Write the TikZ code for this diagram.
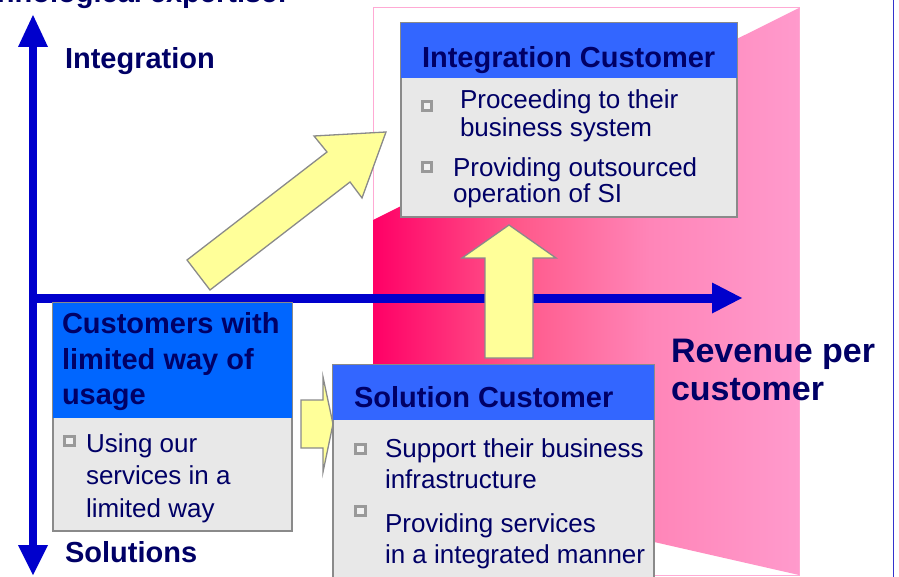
\documentclass[tikz,border=0pt]{standalone}
\usepackage{fontspec}
\setmainfont{Liberation Sans}
\usetikzlibrary{calc}
\definecolor{navy}{HTML}{000066}
\definecolor{axisblue}{HTML}{0000CC}
\definecolor{framelineblue}{HTML}{3333CC}
\definecolor{barblue}{HTML}{3366FF}
\definecolor{barbluebright}{HTML}{0066FF}
\definecolor{bodygray}{HTML}{E8E8E8}
\definecolor{edgegray}{HTML}{8A8A8A}
\definecolor{bulletgray}{HTML}{999999}
\definecolor{arrowyellow}{HTML}{FFFF99}
\definecolor{pinkA}{HTML}{FF0066}
\definecolor{pinkB}{HTML}{FF5A8C}
\definecolor{pinkC}{HTML}{FF85B8}
\definecolor{pinkD}{HTML}{FF9ACC}
\definecolor{pinkline}{HTML}{FFAAD4}
% horizontal fade from hot pink to light pink (path box = 25bp..75bp)
\pgfdeclarehorizontalshading{pinkfade}{100bp}{color(0bp)=(pinkA); color(25bp)=(pinkA); color(42.5bp)=(pinkB); color(57.5bp)=(pinkC); color(75bp)=(pinkD); color(100bp)=(pinkD)}
\begin{document}
\begin{tikzpicture}[x=1pt,y=-1pt,
  every node/.style={inner sep=0pt, outer sep=0pt},
  headtext/.style={font=\fontsize{29}{31}\selectfont\bfseries, text=navy, anchor=base west},
  bigtext/.style={font=\fontsize{34}{36}\selectfont\bfseries, text=navy, anchor=base west},
  itemtext/.style={font=\fontsize{26}{28}\selectfont, text=navy, anchor=base west},
  bodybox/.style={draw=edgegray, line width=1.5pt, fill=bodygray, anchor=north west},
  titlebar/.style={fill=#1, anchor=north west},
  bulletbox/.style={draw=bulletgray, line width=2.6pt, fill=bodygray!60!white, minimum size=9.5pt},
  blockarrow/.style={fill=arrowyellow, draw=edgegray, line width=1.3pt, line join=miter},
  axisline/.style={draw=axisblue, line width=#1},
  axishead/.style={fill=axisblue}
]
\useasboundingbox (0,0) rectangle (899,577);
\clip (0,0) rectangle (899,577);

% frame line on the right
\draw[framelineblue, line width=1pt] (893,0) -- (893,577);

% pink stage: thin outline and shaded trapezoid
\draw[pinkline, line width=1pt] (373,8) rectangle (799,575);
\path[shading=pinkfade] (373,220) -- (799,8) -- (799,575) -- (373,478) -- cycle;

% title cut at the top edge
\node[headtext, anchor=base east] (toptitle) at (287,3) {Technological expertise:};

% axes
\coordinate (ytop) at (33,15);
\coordinate (ybot) at (33,575);
\coordinate (xorig) at (29,298);
\coordinate (xend) at (742,298);
\draw[axisline=8pt] ($(ytop)+(0,30)$) -- ($(ybot)+(0,-30)$);
\fill[axishead] (ytop) -- ++(15,32) -- ++(-30,0) -- cycle;
\fill[axishead] (ybot) -- ++(15,-30) -- ++(-30,0) -- cycle;
\draw[axisline=9pt] (xorig) -- ($(xend)+(-30,0)$);
\fill[axishead] (xend) -- ++(-30,-15.5) -- ++(0,31) -- cycle;

\node[headtext] (lblint) at (65,69) {Integration};
\node[headtext] (lblsol) at (65,562) {Solutions};
\node[bigtext] (lblrev1) at (671,362) {Revenue per};
\node[bigtext] (lblrev2) at (671,400) {customer};

% block arrows
\draw[blockarrow] (187,260) -- (327,152) -- (314,136) -- (386,132) -- (362,198) -- (350,182) -- (210,290) -- cycle;
\draw[blockarrow] (485,358) -- (485,258) -- (462,258) -- (509,225) -- (556,258) -- (533,258) -- (533,358) -- cycle;
\draw[blockarrow] (301,400) -- (323,400) -- (323,377) -- (333,424) -- (323,472) -- (323,448) -- (301,448) -- cycle;

% Integration Customer box
\node[bodybox, minimum width=336pt, minimum height=194pt] (intbox) at (401,23) {};
\node[titlebar=barblue, minimum width=336pt, minimum height=55pt] (intbar) at (401,23) {};
\node[headtext] (inttitle) at (422,68) {Integration Customer};
\node[bulletbox] (intb1) at (427,106) {};
\node[itemtext] (inta1) at (460,109) {Proceeding to their};
\node[itemtext] (inta2) at (460,137) {business system};
\node[bulletbox] (intb2) at (427,167) {};
\node[itemtext] (intc1) at (453,177) {Providing outsourced};
\node[itemtext] (intc2) at (453,203) {operation of SI};

% Solution Customer box
\node[bodybox, minimum width=321pt, minimum height=240pt] (solbox) at (333,365) {};
\node[titlebar=barblue, minimum width=321pt, minimum height=55pt] (solbar) at (333,365) {};
\node[headtext] (soltitle) at (354,407) {Solution Customer};
\node[bulletbox] (solb1) at (360.5,449) {};
\node[itemtext] (sola1) at (385,457.5) {Support their business};
\node[itemtext] (sola2) at (385,488.5) {infrastructure};
\node[bulletbox] (solb2) at (360.5,511) {};
\node[itemtext] (solc1) at (385,532.5) {Providing services};
\node[itemtext] (solc2) at (385,563) {in a integrated manner};

% limited usage box
\node[bodybox, minimum width=239pt, minimum height=228pt] (limbox) at (53,303) {};
\node[titlebar=barbluebright, minimum width=239pt, minimum height=115pt] (limbar) at (53,303) {};
\node[headtext] (limt1) at (62,333) {Customers with};
\node[headtext] (limt2) at (62,369) {limited way of};
\node[headtext] (limt3) at (62,404) {usage};
\node[bulletbox] (limb1) at (69.5,441) {};
\node[itemtext] (lima1) at (86,452) {Using our};
\node[itemtext] (lima2) at (86,484) {services in a};
\node[itemtext] (lima3) at (86,517) {limited way};
\end{tikzpicture}
\end{document}
